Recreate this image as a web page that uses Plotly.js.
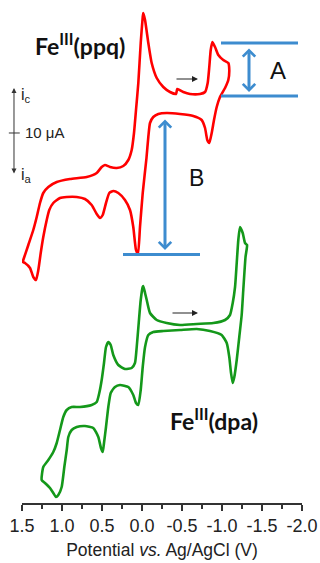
<!DOCTYPE html>
<html><head><meta charset="utf-8">
<script src="https://cdn.plot.ly/plotly-3.0.1.min.js"></script>
<style>html,body{margin:0;padding:0;background:#fff;} #chart{width:320px;height:563px;}</style>
</head><body><div id="chart"></div>
<script>
// Fe(III)(ppq) cyclic voltammogram: potential (V vs Ag/AgCl) and current (offset, arbitrary µA units)
const ppqPotential = [1.484,1.421,1.359,1.316,1.275,1.234,1.171,1.066,0.900,0.691,
  0.566,0.504,0.463,0.400,0.316,0.234,0.171,0.129,0.100,0.075,
  0.046,0.016,-0.009,-0.016,-0.038,-0.079,-0.121,-0.184,-0.266,-0.350,
  -0.425,-0.441,-0.516,-0.600,-0.725,-0.788,-0.821,-0.841,-0.859,-0.879,
  -0.913,-0.954,-1.016,-1.079,-1.091,
  -1.079,-1.038,-0.975,-0.934,-0.900,-0.871,-0.841,-0.816,-0.788,-0.746,
  -0.641,-0.475,-0.309,-0.204,-0.141,-0.100,-0.079,-0.056,-0.009,0.025,
  0.050,0.075,0.109,0.150,0.213,0.296,0.359,0.409,0.450,0.491,
  0.525,0.566,0.629,0.713,0.816,0.941,1.025,1.109,1.159,1.191,
  1.234,1.266,1.296,1.325,1.359,1.400,1.463,1.491,1.484];
const ppqCurrent = [24.3,25.8,27.3,28.6,30.0,31.0,31.6,32.1,32.4,32.6,
  33.0,33.6,33.8,33.6,33.5,33.7,34.3,35.3,37.0,39.3,
  42.0,46.0,48.6,49.0,48.3,46.0,44.0,42.5,41.6,41.1,
  40.9,41.4,41.1,40.9,40.9,41.1,42.0,43.6,45.3,46.1,
  45.6,44.8,44.3,44.0,43.3,
  42.3,41.5,40.6,39.6,38.3,37.0,36.0,36.3,37.5,38.3,
  38.7,38.9,39.0,38.9,38.6,38.0,36.6,34.5,31.0,27.6,
  24.9,25.3,27.6,29.3,30.3,31.0,31.2,31.0,30.0,28.8,
  28.5,28.9,29.8,30.4,30.6,30.6,30.5,30.0,29.3,28.3,
  26.6,25.0,23.3,22.3,22.6,23.5,24.0,24.1,24.3];

// Fe(III)(dpa) cyclic voltammogram
const dpaPotential = [1.254,1.234,1.171,1.109,1.066,1.025,0.984,0.941,0.879,0.775,
  0.629,0.566,0.534,0.504,0.475,0.450,0.421,0.391,0.359,0.296,
  0.213,0.129,0.088,0.066,0.041,0.016,-0.009,-0.016,-0.038,-0.059,
  -0.100,-0.184,-0.309,-0.475,-0.684,-0.891,-1.038,-1.100,-1.134,-1.163,
  -1.184,-1.204,-1.225,-1.259,-1.288,-1.313,
  -1.294,-1.266,-1.246,-1.216,-1.184,-1.154,-1.134,-1.113,-1.091,-1.059,
  -0.996,-0.850,-0.684,-0.475,-0.266,-0.141,-0.079,-0.038,-0.009,0.016,
  0.046,0.075,0.109,0.171,0.275,0.338,0.391,0.421,0.450,0.475,
  0.491,0.513,0.546,0.609,0.713,0.816,0.879,0.921,0.941,0.971,
  1.004,1.046,1.075,1.109,1.150,1.213,1.254];
const dpaCurrent = [2.3,3.6,4.3,5.1,6.0,7.3,8.6,9.3,9.6,9.6,
  9.8,10.1,11.0,12.3,14.0,15.6,16.1,15.8,14.8,13.8,
  13.4,13.5,14.0,15.6,18.0,20.3,21.6,21.7,21.0,20.3,
  19.0,18.3,18.0,17.8,17.9,18.0,18.3,18.8,20.0,21.6,
  24.0,26.3,27.6,27.0,26.0,25.8,
  24.6,21.3,18.8,16.6,14.3,12.6,12.0,13.0,14.6,16.0,
  16.8,17.2,17.4,17.3,17.2,17.1,16.8,15.6,13.6,11.3,
  9.8,10.0,10.8,11.6,11.8,11.6,11.0,9.6,7.6,6.0,
  5.1,5.5,6.6,7.5,7.7,7.6,7.3,6.6,5.3,3.6,
  1.6,0.8,0.6,1.0,1.5,2.0,2.3];

const tickValues = [1.5,1.0,0.5,0.0,-0.5,-1.0,-1.5,-2.0];
const tickLabels = ['1.5','1.0','0.5','0.0','-0.5','-1.0','-1.5','-2.0'];

const BLUE = '#3d8ccf';
const AX = '#333333';
const SANS = 'Liberation Sans, Arial, sans-serif';
const BOLD = 'Lato, Open Sans, sans-serif';

const traces = [
  {x: ppqPotential, y: ppqCurrent, mode: 'lines', line: {color: '#ff0000', width: 2.6, shape: 'spline', smoothing: 0.5}, hoverinfo: 'skip'},
  {x: dpaPotential, y: dpaCurrent, mode: 'lines', line: {color: '#14981a', width: 2.6, shape: 'spline', smoothing: 0.5}, hoverinfo: 'skip'}
];

const layout = {
  width: 320, height: 563,
  margin: {l: 22, r: 18, t: 0, b: 60, pad: 0},
  paper_bgcolor: '#ffffff', plot_bgcolor: '#ffffff',
  showlegend: false, hovermode: false,
  xaxis: {
    range: [1.5, -2.0], tickmode: 'array', tickvals: tickValues, ticktext: tickLabels,
    ticks: 'outside', ticklen: 6, tickwidth: 1.3, tickcolor: AX,
    showline: true, linecolor: AX, linewidth: 1.5,
    showgrid: false, zeroline: false, automargin: false, fixedrange: true,
    tickfont: {family: SANS, size: 18, color: '#222'},
    minor: {tickmode: 'linear', tick0: 0, dtick: 0.25, ticks: 'outside', ticklen: 4, tickwidth: 1.3, tickcolor: AX, showgrid: false},
    title: {text: 'Potential <i>vs.</i> Ag/AgCl (V)', font: {family: SANS, size: 17.5, color: '#222'}, standoff: 8}
  },
  yaxis: {range: [0, 50.3], visible: false, fixedrange: true},
  shapes: [
    {type: 'line', xref: 'x', yref: 'y', x0: -0.9875, x1: -1.95, y0: 46.0, y1: 46.0, line: {color: BLUE, width: 3}},
    {type: 'line', xref: 'x', yref: 'y', x0: -0.9875, x1: -1.95, y0: 40.7, y1: 40.7, line: {color: BLUE, width: 3}},
    {type: 'line', xref: 'x', yref: 'y', x0: 0.2375, x1: -0.725, y0: 24.85, y1: 24.85, line: {color: BLUE, width: 3}},
    {type: 'line', xref: 'paper', yref: 'paper', x0: -0.047, x1: -0.008, y0: 0.7356, y1: 0.7356, line: {color: AX, width: 1}}
  ],
  annotations: [
    {xref: 'x', yref: 'y', x: 0.775, y: 45.9, text: '<b>Fe<sup>III</sup>(ppq)</b>', showarrow: false, font: {family: BOLD, size: 23, color: '#111'}},
    {xref: 'x', yref: 'y', x: -0.9, y: 8.4, text: '<b>Fe<sup>III</sup>(dpa)</b>', showarrow: false, font: {family: BOLD, size: 23, color: '#111'}},
    {xref: 'x', yref: 'y', x: -1.7, y: 43.25, text: 'A', showarrow: false, font: {family: SANS, size: 24, color: '#111'}},
    {xref: 'x', yref: 'y', x: -0.675, y: 32.5, text: 'B', showarrow: false, font: {family: SANS, size: 23, color: '#111'}},
    {xref: 'x', yref: 'y', x: -1.3375, y: 41.1, axref: 'x', ayref: 'y', ax: -1.3375, ay: 45.6, text: '', showarrow: true,
      arrowside: 'end+start', arrowhead: 4, startarrowhead: 4, arrowsize: 0.8, startarrowsize: 0.8, arrowwidth: 3, arrowcolor: BLUE, standoff: 0, startstandoff: 0},
    {xref: 'x', yref: 'y', x: -0.2875, y: 25.3, axref: 'x', ayref: 'y', ax: -0.2875, ay: 38.5, text: '', showarrow: true,
      arrowside: 'end+start', arrowhead: 4, startarrowhead: 4, arrowsize: 0.8, startarrowsize: 0.8, arrowwidth: 3, arrowcolor: BLUE, standoff: 0, startstandoff: 0},
    {xref: 'x', yref: 'y', x: -0.70, y: 42.4, axref: 'x', ayref: 'y', ax: -0.4125, ay: 42.4, text: '', showarrow: true,
      arrowhead: 2, arrowsize: 1, arrowwidth: 1.2, arrowcolor: '#222'},
    {xref: 'x', yref: 'y', x: -0.70, y: 19.0, axref: 'x', ayref: 'y', ax: -0.3625, ay: 19.0, text: '', showarrow: true,
      arrowhead: 2, arrowsize: 1, arrowwidth: 1.2, arrowcolor: '#222'},
    {xref: 'paper', yref: 'paper', x: -0.0286, y: 0.825, ax: 0, ay: 87, text: '', showarrow: true,
      arrowside: 'end+start', arrowhead: 2, startarrowhead: 2, arrowsize: 1, startarrowsize: 1, arrowwidth: 1, arrowcolor: AX},
    {xref: 'paper', yref: 'paper', x: 0.0025, y: 0.7356, xanchor: 'left', yanchor: 'middle', text: '10 μA', showarrow: false, font: {family: SANS, size: 15, color: '#222'}},
    {xref: 'paper', yref: 'paper', x: -0.012, y: 0.81, xanchor: 'left', yanchor: 'middle', text: 'i<sub>c</sub>', showarrow: false, font: {family: SANS, size: 16, color: '#222'}},
    {xref: 'paper', yref: 'paper', x: -0.012, y: 0.652, xanchor: 'left', yanchor: 'middle', text: 'i<sub>a</sub>', showarrow: false, font: {family: SANS, size: 16, color: '#222'}}
  ]
};

Plotly.newPlot('chart', traces, layout, {staticPlot: true, displayModeBar: false});
</script>
</body></html>
